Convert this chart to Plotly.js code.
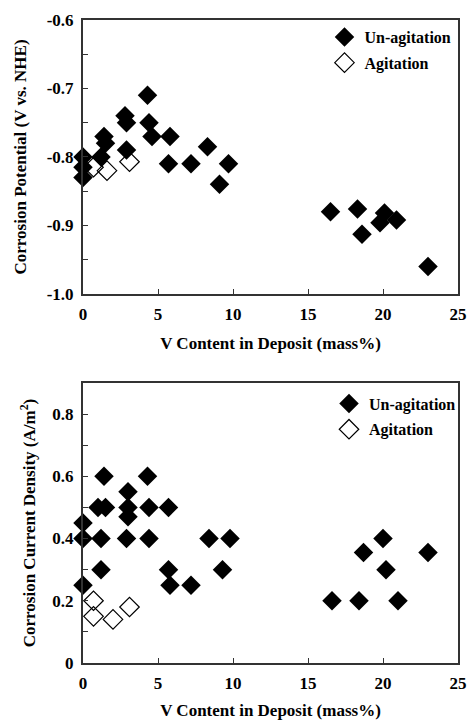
<!DOCTYPE html>
<html>
<head>
<meta charset="utf-8">
<script src="https://cdn.plot.ly/plotly-3.0.1.min.js"></script>
<style>html,body{margin:0;padding:0;background:#fff;}#chart{width:470px;height:722px;}</style>
</head>
<body>
<div id="chart"></div>
<script>
// Top panel: corrosion potential (V vs. NHE)
const potUnX = [0, 0, 0, 1.2, 1.4, 1.5, 2.8, 2.9, 2.9, 4.3, 4.4, 4.6, 5.7, 5.8, 7.2, 8.3, 9.1, 9.7, 16.5, 18.3, 18.6, 19.8, 20.1, 20.9, 23.0];
const potUnY = [-0.80, -0.815, -0.83, -0.80, -0.77, -0.78, -0.74, -0.75, -0.79, -0.71, -0.75, -0.77, -0.81, -0.77, -0.81, -0.785, -0.84, -0.81, -0.88, -0.876, -0.913, -0.896, -0.882, -0.892, -0.96];
const potAgX = [0.7, 1.6, 3.1];
const potAgY = [-0.815, -0.82, -0.807];

// Bottom panel: corrosion current density (A/m2)
const curUnX = [1.4, 4.3, 3.0, 1.0, 1.5, 3.0, 4.4, 5.7, 3.0, 0, 0, 1.2, 2.9, 4.4, 8.4, 9.8, 1.2, 5.7, 9.3, 0, 5.8, 7.2, 20.0, 18.7, 23.0, 20.2, 16.6, 18.4, 21.0];
const curUnY = [0.60, 0.60, 0.55, 0.50, 0.50, 0.50, 0.50, 0.50, 0.47, 0.45, 0.40, 0.40, 0.40, 0.40, 0.40, 0.40, 0.30, 0.30, 0.30, 0.25, 0.25, 0.25, 0.40, 0.355, 0.355, 0.30, 0.20, 0.20, 0.20];
const curAgX = [0.7, 0.7, 2.0, 3.1];
const curAgY = [0.20, 0.15, 0.14, 0.18];

const seriesNames = ["Un-agitation", "Agitation"];
const xTickVals = [0, 5, 10, 15, 20, 25];
const xTickText = ["0", "5", "10", "15", "20", "25"];
const potTickVals = [-1.0, -0.9, -0.8, -0.7, -0.6];
const potTickText = ["-1.0", "-0.9", "-0.8", "-0.7", "-0.6"];
const curTickVals = [0, 0.2, 0.4, 0.6, 0.8];
const curTickText = ["0", "0.2", "0.4", "0.6", "0.8"];

const FAM = '"Liberation Serif", "Times New Roman", serif';
const TICKFONT = {family: FAM, size: 17, color: '#000', weight: 'bold'};
const TITLEFONT = {family: FAM, size: 17, color: '#000', weight: 'bold'};
const LEGFONT = {family: FAM, size: 16, color: '#000', weight: 'bold'};
const MS = 15;

const traces = [
  {x: potUnX, y: potUnY, name: seriesNames[0], type: 'scatter', mode: 'markers', xaxis: 'x', yaxis: 'y', legend: 'legend', legendgroup: 'a',
   marker: {symbol: 'diamond', size: MS, color: '#000', line: {width: 0}}, cliponaxis: false},
  {x: potAgX, y: potAgY, name: seriesNames[1], type: 'scatter', mode: 'markers', xaxis: 'x', yaxis: 'y', legend: 'legend', legendgroup: 'b',
   marker: {symbol: 'diamond-open', size: MS, color: '#000', line: {width: 1.2, color: '#000'}}, cliponaxis: false},
  {x: curUnX, y: curUnY, name: seriesNames[0], type: 'scatter', mode: 'markers', xaxis: 'x2', yaxis: 'y2', legend: 'legend2', legendgroup: 'c',
   marker: {symbol: 'diamond', size: MS, color: '#000', line: {width: 0}}, cliponaxis: false},
  {x: curAgX, y: curAgY, name: seriesNames[1], type: 'scatter', mode: 'markers', xaxis: 'x2', yaxis: 'y2', legend: 'legend2', legendgroup: 'd',
   marker: {symbol: 'diamond-open', size: MS, color: '#000', line: {width: 1.2, color: '#000'}}, cliponaxis: false}
];

const axisCommon = {
  showline: true, mirror: true, linecolor: '#333', linewidth: 2,
  ticks: 'inside', ticklen: 5, tickwidth: 1, tickcolor: '#333',
  showgrid: false, zeroline: false, tickfont: TICKFONT, tickmode: 'array'
};

const layout = {
  width: 470, height: 722,
  margin: {l: 83, r: 9, t: 20, b: 59},
  paper_bgcolor: '#fff', plot_bgcolor: '#fff',
  font: TICKFONT,
  showlegend: true,
  xaxis: Object.assign({}, axisCommon, {
    domain: [0, 1], anchor: 'y', range: [0, 25], tickvals: xTickVals, ticktext: xTickText, ticklabelstandoff: 4,
    title: {text: 'V Content in Deposit (mass%)', font: TITLEFONT, standoff: 14}
  }),
  yaxis: Object.assign({}, axisCommon, {
    domain: [0.574, 1], anchor: 'x', range: [-1.0, -0.6], tickvals: potTickVals, ticktext: potTickText, ticklabelstandoff: 4,
    minor: {dtick: 0.05, tick0: -1.0, ticks: 'inside', ticklen: 5, tickcolor: '#333'},
    title: {text: 'Corrosion Potential (V vs. NHE)', font: TITLEFONT, standoff: 16}
  }),
  xaxis2: Object.assign({}, axisCommon, {
    domain: [0, 1], anchor: 'y2', range: [0, 25], tickvals: xTickVals, ticktext: xTickText, ticklabelstandoff: 4,
    title: {text: 'V Content in Deposit (mass%)', font: TITLEFONT, standoff: 12}
  }),
  yaxis2: Object.assign({}, axisCommon, {
    domain: [0, 0.4355], anchor: 'x2', range: [0, 0.9], tickvals: curTickVals, ticktext: curTickText, ticklabelstandoff: 4,
    minor: {dtick: 0.1, tick0: 0, ticks: 'inside', ticklen: 5, tickcolor: '#333'},
    title: {text: 'Corrosion Current Density (A/m<sup>2</sup>)', font: TITLEFONT, standoff: 12}
  }),
  legend: {x: 0.644, xanchor: 'left', y: 1.0, yanchor: 'top', font: LEGFONT, bgcolor: 'rgba(0,0,0,0)',
           tracegroupgap: 2, traceorder: 'grouped', itemwidth: 30},
  legend2: {x: 0.656, xanchor: 'left', y: 0.43, yanchor: 'top', font: LEGFONT, bgcolor: 'rgba(0,0,0,0)',
           tracegroupgap: 2, traceorder: 'grouped', itemwidth: 30}
};

Plotly.newPlot('chart', traces, layout, {displayModeBar: false, staticPlot: true});
</script>
</body>
</html>
